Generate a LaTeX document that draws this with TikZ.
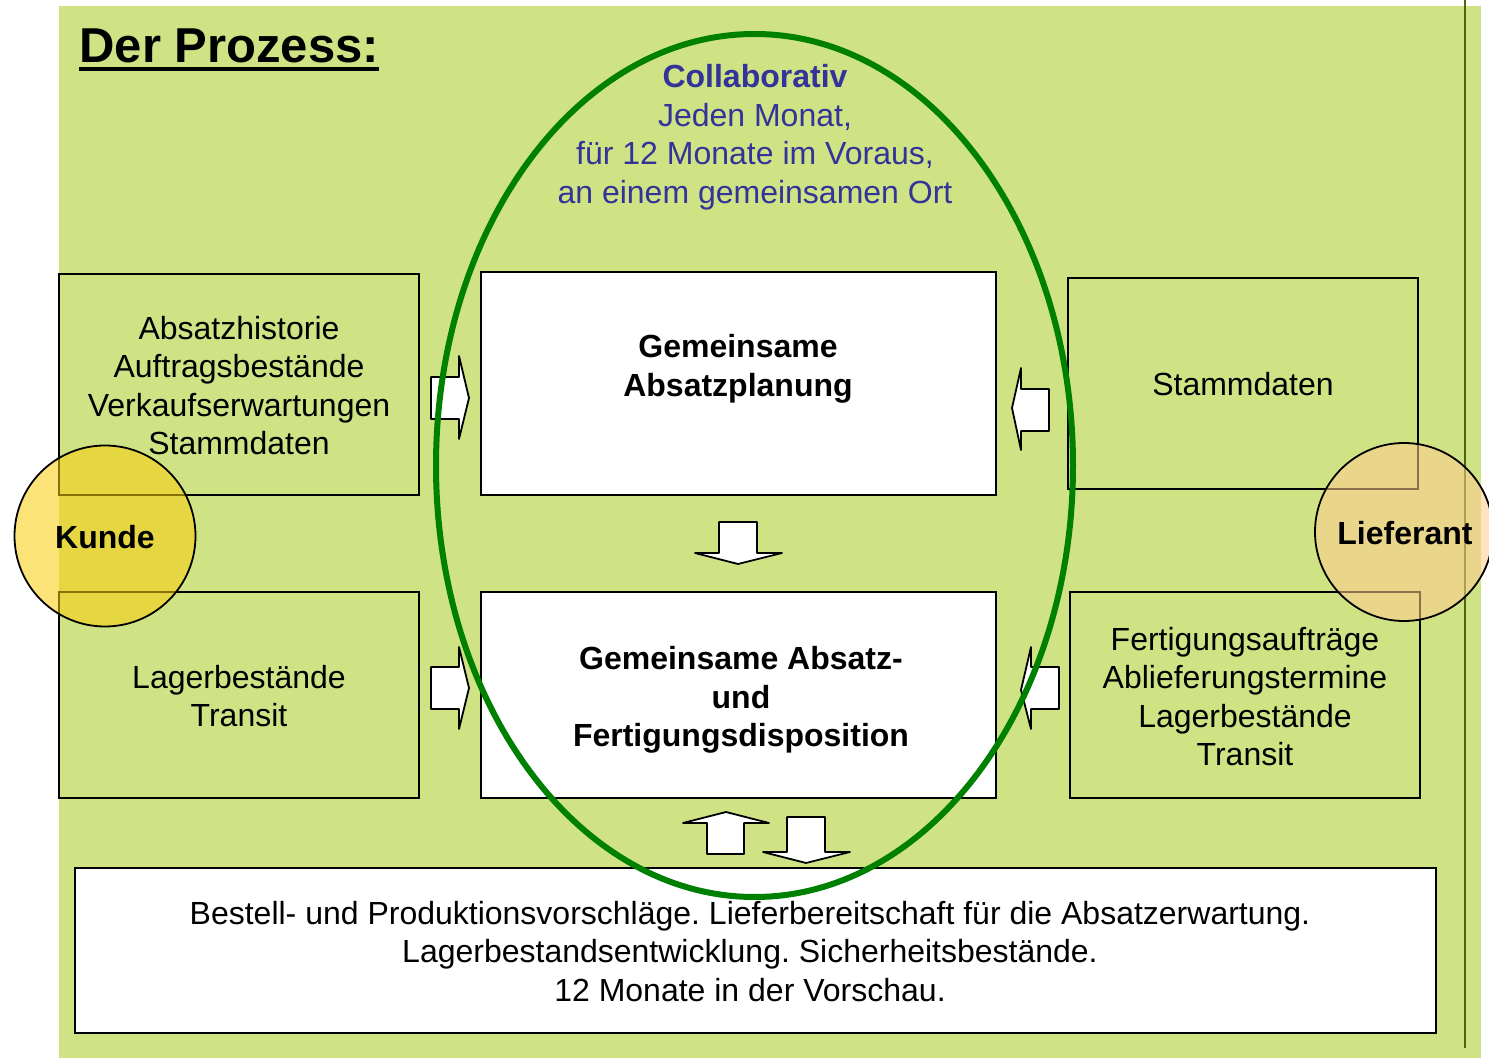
\documentclass[tikz,border=0pt]{standalone}
\usepackage{fontspec}
\setmainfont{Liberation Sans}
\frenchspacing
\definecolor{bggreen}{RGB}{207,227,133}
\definecolor{ellgreen}{RGB}{0,128,0}
\definecolor{olive}{RGB}{80,100,20}
\definecolor{collabblue}{RGB}{51,51,153}
\definecolor{kundeyellow}{RGB}{250,204,10}
\definecolor{liefpeach}{RGB}{255,204,143}
\begin{document}
\begin{tikzpicture}[x=0.5pt,y=-0.5pt,
  box/.style={draw=black,line width=1pt},
  wbox/.style={draw=black,fill=white,line width=1pt},
  txt/.style={align=center,inner sep=0pt,font=\fontsize{16}{19.25}\selectfont},
  btxt/.style={align=center,inner sep=0pt,font=\fontsize{16}{19.25}\selectfont\bfseries},
  blockarrow/.style={draw=black,fill=white,line width=0.9pt,line join=round},
  party/.style={draw=black,line width=0.9pt,fill opacity=0.55}]
\useasboundingbox (0,0) rectangle (1489,1058);
\fill[white] (0,0) rectangle (1489,1058);
\fill[bggreen] (59,6) rectangle (1481,1058);
\draw[olive,line width=1.1pt] (1465,0) -- (1465,1048);

% title
\node[anchor=base west,inner sep=0pt,font=\fontsize{24.5}{29}\selectfont\bfseries] (title) at (79,63) {Der Prozess:};
\draw[line width=2pt] ([yshift=-3pt]title.base west) -- ([yshift=-3pt]title.base east);

% boxes
\draw[box] (59,274) rectangle (419,495);
\draw[wbox] (481,272) rectangle (996,495);
\draw[box] (1068,278) rectangle (1418,489);
\draw[box] (59,592) rectangle (419,798);
\draw[wbox] (481,592) rectangle (996,798);
\draw[box] (1070,592) rectangle (1420,798);

\node[txt] (lt) at (239,385.5) {Absatzhistorie\\Auftragsbestände\\Verkaufserwartungen\\Stammdaten};
\node[btxt] (ct) at (738,369) {Gemeinsame\\Absatzplanung};
\node[txt] (rt) at (1243,384) {Stammdaten};
\node[txt] (lb) at (239,696) {Lagerbestände\\Transit};
\node[btxt] (cb) at (741,700) {Gemeinsame Absatz-\\und\\Fertigungsdisposition};
\node[txt] (rb) at (1245,696.5) {Fertigungsaufträge\\Ablieferungstermine\\Lagerbestände\\Transit};

% block arrows
\draw[blockarrow] (431,377) -- (459,377) -- (459,356) -- (469,398) -- (459,439) -- (459,419) -- (431,419) -- cycle;
\draw[blockarrow] (1049,389) -- (1021,389) -- (1021,368) -- (1012,408) -- (1021,450) -- (1021,431) -- (1049,431) -- cycle;
\draw[blockarrow] (719,522) -- (757,522) -- (757,553) -- (782,553) -- (738,564) -- (695,553) -- (719,553) -- cycle;
\draw[blockarrow] (431,667) -- (459,667) -- (459,647) -- (469,688) -- (459,729) -- (459,709) -- (431,709) -- cycle;
\draw[blockarrow] (1059,667) -- (1031,667) -- (1031,647) -- (1021,690) -- (1031,729) -- (1031,709) -- (1059,709) -- cycle;
\draw[blockarrow] (707,854) -- (707,823) -- (683,823) -- (726,812) -- (769,823) -- (744,823) -- (744,854) -- cycle;
\draw[blockarrow] (787,817) -- (825,817) -- (825,852) -- (850,852) -- (806,863) -- (763,852) -- (787,852) -- cycle;

% bottom box
\draw[wbox] (75,868) rectangle (1436,1033);
\node[txt] (bt) at (750,951.5) {Bestell- und Produktionsvorschläge. Lieferbereitschaft für die Absatzerwartung.\\Lagerbestandsentwicklung. Sicherheitsbestände.\\12 Monate in der Vorschau.};

% collaborative ellipse
\draw[ellgreen,line width=3pt] (754.5,465.5) ellipse [x radius=318.5, y radius=431.5];
\node[txt,text=collabblue] (collab) at (755,137) {\textbf{Collaborativ}\\Jeden Monat,\\für 12 Monate im Voraus,\\an einem gemeinsamen Ort};

% parties
\draw[party,fill=kundeyellow] (105,536) circle [radius=90.5];
\node[btxt] (kunde) at (105,537) {Kunde};
\draw[party,fill=liefpeach] (1404,532) circle [radius=89];
\node[btxt] (lief) at (1405,533) {Lieferant};
\end{tikzpicture}
\end{document}
